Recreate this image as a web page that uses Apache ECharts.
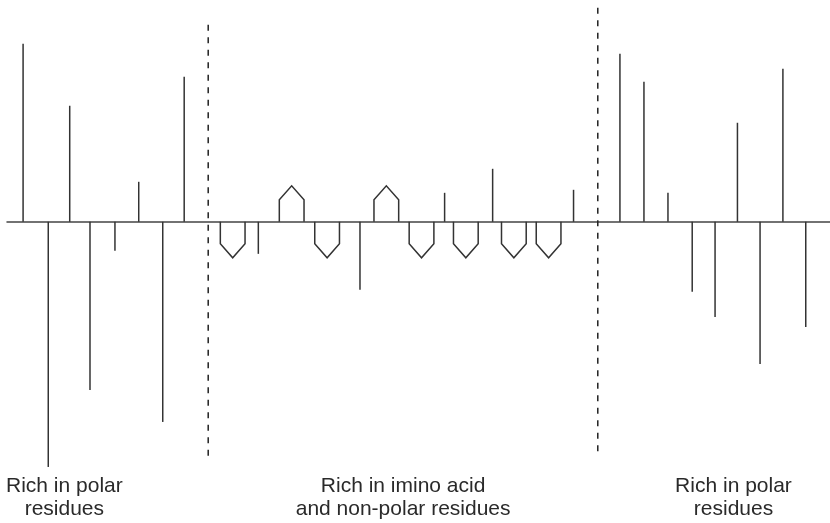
<!DOCTYPE html>
<html>
<head>
<meta charset="utf-8">
<script src="https://cdn.jsdelivr.net/npm/echarts@6/dist/echarts.min.js"></script>
<style>
html,body{margin:0;padding:0;background:#fff;}
#chart{width:830px;height:523px;}
</style>
</head>
<body>
<div id="chart"></div>
<script>
// Residue positions (along the chain) and hydropathy-like values of single residues
const stickPos = [0.69, 1.77, 2.69, 3.56, 4.63, 5.65, 6.68, 7.60,
                  10.78, 15.14, 18.77, 20.83, 24.30,
                  26.29, 27.32, 28.35, 29.39, 30.37, 31.33, 32.30, 33.28, 34.26];
const stickVal = [17.8, -24.5, 11.6, -16.8, -2.9, 4.0, -20.0, 14.5,
                  -3.2, -6.8, 2.9, 5.3, 3.2,
                  16.8, 14.0, 2.9, -7.0, -9.5, 9.9, -14.2, 15.3, -10.5];
// Imino acid (proline) symbols: position and side (+1 above, -1 below)
const prolinePos = [9.68, 12.21, 13.73, 16.27, 17.78, 19.68, 21.74, 23.23];
const prolineDir = [-1, 1, -1, 1, -1, -1, -1, -1];
// Region dividers
const dividerPos = [8.63, 25.34];
const dividerTop = [19.7, 21.4];
const dividerBottom = [-23.8, -23.1];
// Region labels
const labelPos = [2.46, 16.99, 31.16];
const labelText = ['Rich in polar\nresidues', 'Rich in imino acid\nand non-polar residues', 'Rich in polar\nresidues'];

const ink = '#333333';
const chart = echarts.init(document.getElementById('chart'), null, {renderer: 'canvas'});

const option = {
  animation: false,
  backgroundColor: '#ffffff',
  grid: {left: 7, right: 0, top: 0, bottom: 1},
  xAxis: {
    type: 'value', min: 0, max: 35.3,
    axisLine: {show: true, onZero: true, lineStyle: {color: '#444', width: 1.5}},
    axisTick: {show: false}, axisLabel: {show: false}, splitLine: {show: false}
  },
  yAxis: {
    type: 'value', min: -30, max: 22.17, show: false,
    splitLine: {show: false}
  },
  series: [
    {
      type: 'custom',
      data: stickPos.map((p, i) => [p, stickVal[i]]),
      renderItem: function (params, api) {
        const a = api.coord([api.value(0), 0]);
        const b = api.coord([api.value(0), api.value(1)]);
        return {type: 'line', shape: {x1: a[0], y1: a[1], x2: b[0], y2: b[1]},
                style: {stroke: ink, lineWidth: 1.5}};
      }
    },
    {
      type: 'custom',
      data: prolinePos.map((p, i) => [p, prolineDir[i]]),
      renderItem: function (params, api) {
        const x = api.value(0), d = api.value(1);
        const hw = 0.53, sh = 2.2, tip = 3.6;
        const pts = [
          api.coord([x - hw, 0]),
          api.coord([x - hw, d * sh]),
          api.coord([x, d * tip]),
          api.coord([x + hw, d * sh]),
          api.coord([x + hw, 0])
        ];
        return {type: 'polyline', shape: {points: pts},
                style: {stroke: ink, fill: 'none', lineWidth: 1.5}};
      }
    },
    {
      type: 'custom',
      data: dividerPos.map((p, i) => [p, dividerTop[i], dividerBottom[i]]),
      renderItem: function (params, api) {
        const a = api.coord([api.value(0), api.value(1)]);
        const b = api.coord([api.value(0), api.value(2)]);
        return {type: 'line', shape: {x1: a[0], y1: a[1], x2: b[0], y2: b[1]},
                style: {stroke: '#222', lineWidth: 1.5, lineDash: [6, 6.5]}};
      }
    }
  ]
};
chart.setOption(option);

const graphics = labelPos.map((p, i) => ({
  type: 'text',
  x: chart.convertToPixel({xAxisIndex: 0}, p),
  y: 475,
  style: {
    text: labelText[i],
    font: '21px "Liberation Sans", Arial, sans-serif',
    fill: '#2a2a2a',
    textAlign: 'center',
    textVerticalAlign: 'top',
    lineHeight: 23
  }
}));
chart.setOption({graphic: graphics});
</script>
</body>
</html>
